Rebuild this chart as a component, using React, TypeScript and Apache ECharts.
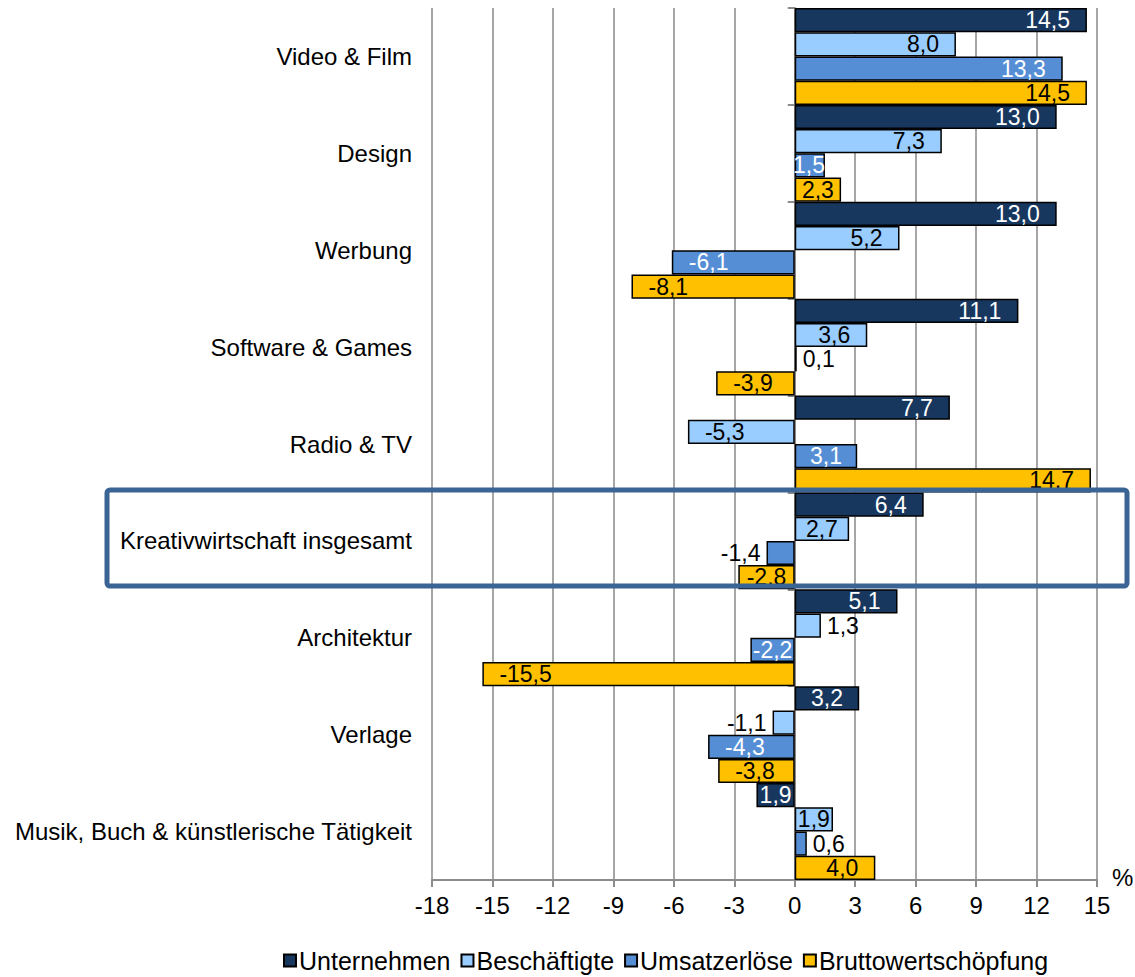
import React, { useEffect, useRef } from "react";
import * as echarts from "echarts";

// Branchen der Kreativwirtschaft (von oben nach unten)
const categories = [
  "Video & Film",
  "Design",
  "Werbung",
  "Software & Games",
  "Radio & TV",
  "Kreativwirtschaft insgesamt",
  "Architektur",
  "Verlage",
  "Musik, Buch & künstlerische Tätigkeit",
];

// Veränderung in %
const unternehmen = [14.5, 13.0, 13.0, 11.1, 7.7, 6.4, 5.1, 3.2, -1.9];
const beschaeftigte = [8.0, 7.3, 5.2, 3.6, -5.3, 2.7, 1.3, -1.1, 1.9];
const umsatzerloese = [13.3, 1.5, -6.1, 0.1, 3.1, -1.4, -2.2, -4.3, 0.6];
const bruttowertschoepfung = [14.5, 2.3, -8.1, -3.9, 14.7, -2.8, -15.5, -3.8, 4.0];

const xTicks = { min: -18, max: 15, interval: 3 };

const seriesDefs = [
  { name: "Unternehmen", data: unternehmen, color: "#17375E", text: "#FFFFFF" },
  { name: "Beschäftigte", data: beschaeftigte, color: "#99CCFF", text: "#000000" },
  { name: "Umsatzerlöse", data: umsatzerloese, color: "#558ED5", text: "#FFFFFF" },
  { name: "Bruttowertschöpfung", data: bruttowertschoepfung, color: "#FFC000", text: "#000000" },
];

// Labels printed without sign (series index, category index)
const unsignedLabels = [[0, 8]];

const FONT = "'Liberation Sans', Arial, sans-serif";
const FS = 24; // axis and category text
const LEGEND_FS = 25;
const LFS = 23; // data labels
const PX_PER_UNIT = 20.15;

const fmt = (v: number) => v.toFixed(1).replace(".", ",");

function textWidth(s: string) {
  let w = 0;
  for (const ch of s) {
    if (ch === ",") w += 0.278;
    else if (ch === "-") w += 0.333;
    else w += 0.556;
  }
  return w * LFS;
}

function buildItem(v: number, si: number, ci: number, insideColor: string) {
  const unsigned = unsignedLabels.some(([s, c]) => s === si && c === ci);
  const text = unsigned ? fmt(Math.abs(v)) : fmt(v);
  const len = Math.abs(v) * PX_PER_UNIT;
  const w = textWidth(text);
  const neg = v < 0;
  const inside = len >= w - 4;
  return {
    value: v,
    label: inside
      ? {
          position: neg ? "insideLeft" : "insideRight",
          distance: Math.max(0, Math.min(17, (len - w) / 2)),
          color: insideColor,
          formatter: text,
        }
      : {
          position: neg ? "left" : "right",
          distance: 6,
          color: "#000000",
          formatter: text,
        },
  };
}

export default function App() {
  const ref = useRef<HTMLDivElement>(null);

  useEffect(() => {
    if (!ref.current) return;
    const chart = echarts.init(ref.current, undefined, { renderer: "svg" });

    const series = seriesDefs.map((s, si) => ({
      name: s.name,
      type: "bar",
      yAxisIndex: 0,
      barGap: "0%",
      barCategoryGap: "0%",
      itemStyle: { color: s.color, borderColor: "#000000", borderWidth: 1.5 },
      label: {
        show: true,
        fontFamily: FONT,
        fontSize: LFS,
      },
      data: s.data.map((v, ci) => buildItem(v, si, ci, s.text)),
    }));

    chart.setOption({
      animation: false,
      textStyle: { fontFamily: FONT },
      grid: { left: 432, right: 38, top: 8, bottom: 97, containLabel: false },
      xAxis: {
        type: "value",
        min: xTicks.min,
        max: xTicks.max,
        interval: xTicks.interval,
        axisLine: { show: true, onZero: false, lineStyle: { color: "#8C8C8C", width: 2 } },
        axisTick: { show: true, length: 7, lineStyle: { color: "#8C8C8C", width: 2 } },
        splitLine: { show: true, lineStyle: { color: "#A6A6A6", width: 2 } },
        axisLabel: { color: "#000000", fontSize: FS, fontFamily: FONT, margin: 13 },
      },
      yAxis: [
        {
          type: "category",
          data: categories,
          inverse: true,
          position: "left",
          axisLine: { show: false, onZero: false },
          axisTick: { show: false },
          axisLabel: { color: "#000000", fontSize: FS, fontFamily: FONT, margin: 20 },
        },
        {
          type: "category",
          data: categories,
          inverse: true,
          position: "left",
          axisLine: { show: true, onZero: true, lineStyle: { color: "#8C8C8C", width: 2 } },
          axisTick: { show: true, length: 7, lineStyle: { color: "#8C8C8C", width: 2 } },
          axisLabel: { show: false },
          splitLine: { show: false },
        },
      ],
      legend: {
        left: 283,
        top: 948,
        icon: "rect",
        itemWidth: 12,
        itemHeight: 12,
        itemGap: 10,
        padding: 0,
        textStyle: { color: "#000000", fontSize: LEGEND_FS, fontFamily: FONT, padding: [0, 0, 0, -2] },
        data: seriesDefs.map((s) => s.name),
      },
      graphic: [
        {
          type: "text",
          left: 1112,
          top: 865,
          style: { text: "%", fontSize: FS, fontFamily: FONT, fill: "#000000" },
        },
        {
          type: "rect",
          z: 100,
          shape: { x: 107, y: 490, width: 1020, height: 96, r: 3 },
          style: { fill: "none", stroke: "#3A6494", lineWidth: 5 },
        },
      ],
      series,
    });

    return () => chart.dispose();
  }, []);

  return (
    <div
      ref={ref}
      style={{ position: "absolute", left: 0, top: 0, width: 1135, height: 977, background: "#FFFFFF" }}
    />
  );
}
